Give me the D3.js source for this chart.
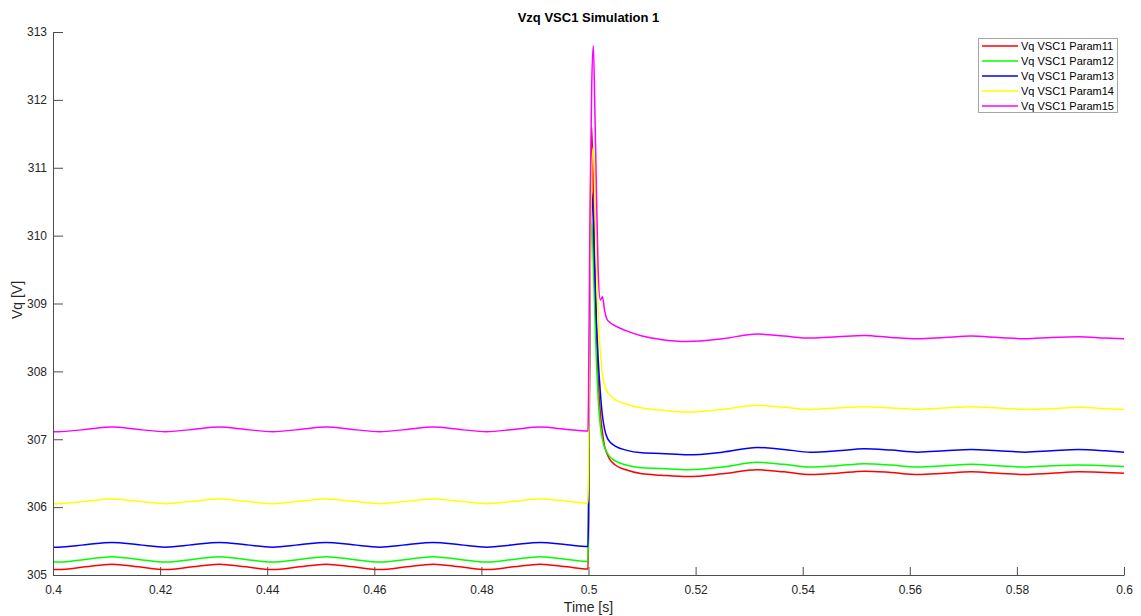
<!DOCTYPE html>
<html>
<head>
<meta charset="utf-8">
<script src="https://cdn.jsdelivr.net/npm/d3@7"></script>
<style>
  body { margin: 0; background: #fff; }
  svg { display: block; font-family: "Liberation Sans", Arial, sans-serif; }
</style>
</head>
<body>
<svg width="1141" height="616"></svg>
<script>
// time samples [s]
const time = [
  0.4, 0.401, 0.406, 0.411, 0.416, 0.421, 0.426, 0.431, 0.436, 0.441, 0.446,
  0.451, 0.456, 0.461, 0.466, 0.471, 0.476, 0.481, 0.486, 0.491, 0.496, 0.4999,
  0.5, 0.5003, 0.5006, 0.5009, 0.5012, 0.5015, 0.5018, 0.5022, 0.5026, 0.503,
  0.5035, 0.504, 0.505, 0.507, 0.51,
  0.5135, 0.5185, 0.525, 0.5315, 0.5365, 0.5415, 0.5465, 0.5515, 0.5565, 0.5615,
  0.5665, 0.5715, 0.5765, 0.5815, 0.5865, 0.5915, 0.5965, 0.6
];

const param11 = [
  305.08, 305.08, 305.12, 305.16, 305.12, 305.08, 305.12, 305.16, 305.12, 305.08, 305.12,
  305.16, 305.12, 305.08, 305.12, 305.16, 305.12, 305.08, 305.12, 305.16, 305.12, 305.09,
  305.6, 309.2, 311.6, 310.6, 309.4, 308.5, 307.9, 307.4, 307.1, 306.9,
  306.78, 306.7, 306.62, 306.55, 306.49,
  306.47, 306.45, 306.49, 306.55, 306.52, 306.48, 306.5, 306.53, 306.51, 306.48,
  306.5, 306.52, 306.5, 306.48, 306.5, 306.52, 306.51, 306.5
];
const param12 = [
  305.19, 305.19, 305.23, 305.27, 305.23, 305.19, 305.23, 305.27, 305.23, 305.19, 305.23,
  305.27, 305.23, 305.19, 305.23, 305.27, 305.23, 305.19, 305.23, 305.27, 305.23, 305.2,
  305.7, 309.3, 310.2, 309.6, 308.8, 308.1, 307.6, 307.2, 307.0, 306.88,
  306.8, 306.74, 306.68, 306.62, 306.58,
  306.57, 306.55, 306.59, 306.66, 306.63, 306.59, 306.61, 306.64, 306.62, 306.59,
  306.61, 306.63, 306.61, 306.59, 306.61, 306.62, 306.61, 306.6
];
const param13 = [
  305.41, 305.41, 305.445, 305.48, 305.445, 305.41, 305.445, 305.48, 305.445, 305.41, 305.445,
  305.48, 305.445, 305.41, 305.445, 305.48, 305.445, 305.41, 305.445, 305.48, 305.445, 305.42,
  305.9, 309.6, 310.65, 310.2, 309.4, 308.7, 308.2, 307.7, 307.35, 307.15,
  307.02, 306.96, 306.9, 306.84, 306.8,
  306.79, 306.77, 306.81, 306.88, 306.85, 306.81, 306.83, 306.86, 306.84, 306.81,
  306.83, 306.85, 306.83, 306.81, 306.83, 306.85, 306.83, 306.81
];
const param14 = [
  306.05, 306.05, 306.085, 306.12, 306.085, 306.05, 306.085, 306.12, 306.085, 306.05, 306.085,
  306.12, 306.085, 306.05, 306.085, 306.12, 306.085, 306.05, 306.085, 306.12, 306.085, 306.06,
  306.5, 309.5, 311.0, 311.3, 310.8, 309.6, 308.8, 308.3, 307.95, 307.8,
  307.7, 307.65, 307.58, 307.52, 307.46,
  307.43, 307.4, 307.44, 307.5, 307.47, 307.44, 307.46, 307.48, 307.46, 307.44,
  307.46, 307.48, 307.46, 307.44, 307.45, 307.47, 307.45, 307.44
];
const param15 = [
  307.11, 307.11, 307.145, 307.18, 307.145, 307.11, 307.145, 307.18, 307.145, 307.11, 307.145,
  307.18, 307.145, 307.11, 307.145, 307.18, 307.145, 307.11, 307.145, 307.18, 307.145, 307.12,
  307.6, 310.5, 312.2, 312.8, 311.8, 310.6, 309.5, 309.05, 309.1, 308.9,
  308.76, 308.72, 308.67, 308.6, 308.52,
  308.47, 308.44, 308.48, 308.55, 308.52, 308.49, 308.51, 308.53, 308.5, 308.48,
  308.5, 308.52, 308.5, 308.48, 308.5, 308.51, 308.49, 308.48
];

const seriesNames = ['Vq VSC1 Param11', 'Vq VSC1 Param12', 'Vq VSC1 Param13', 'Vq VSC1 Param14', 'Vq VSC1 Param15'];
const seriesColors = ['#ff0000', '#00ff00', '#0000ff', '#ffff00', '#ff00ff'];
const seriesValues = [param11, param12, param13, param14, param15];

const xTicks = [0.4, 0.42, 0.44, 0.46, 0.48, 0.5, 0.52, 0.54, 0.56, 0.58, 0.6];
const xTickLabels = ['0.4', '0.42', '0.44', '0.46', '0.48', '0.5', '0.52', '0.54', '0.56', '0.58', '0.6'];
const yTicks = [305, 306, 307, 308, 309, 310, 311, 312, 313];

const margin = { top: 32, right: 17, bottom: 41, left: 53 };
const width = 1141, height = 616;
const innerW = width - margin.left - margin.right;
const innerH = height - margin.top - margin.bottom;
const axisColor = '#4d4d4d';
const textColor = '#262626';

const svg = d3.select('svg');
const g = svg.append('g').attr('transform', `translate(${margin.left},${margin.top})`);

const x = d3.scaleLinear().domain([0.4, 0.6]).range([0, innerW]);
const y = d3.scaleLinear().domain([305, 313]).range([innerH, 0]);

svg.append('defs').append('clipPath').attr('id', 'plot')
  .append('rect').attr('width', innerW).attr('height', innerH);

// lines
const line = d3.line()
  .x((d, i) => x(time[i]))
  .y(d => y(d))
  .curve(d3.curveMonotoneX);

g.append('g').attr('clip-path', 'url(#plot)')
  .selectAll('path')
  .data(seriesValues)
  .join('path')
  .attr('d', d => line(d))
  .attr('fill', 'none')
  .attr('stroke', (d, i) => seriesColors[i])
  .attr('stroke-width', 1.5);

// axes (ticks inward like MATLAB)
const xAxis = d3.axisBottom(x)
  .tickValues(xTicks)
  .tickFormat((d, i) => xTickLabels[i])
  .tickSizeInner(-8).tickSizeOuter(0).tickPadding(10);
const gx = g.append('g').attr('transform', `translate(0,${innerH})`).call(xAxis);

const yAxis = d3.axisLeft(y)
  .tickValues(yTicks)
  .tickSizeInner(-10).tickSizeOuter(0).tickPadding(6);
const gy = g.append('g').call(yAxis);

[gx, gy].forEach(ax => {
  ax.select('.domain').attr('stroke', axisColor);
  ax.selectAll('.tick line').attr('stroke', axisColor);
  ax.selectAll('.tick text').attr('fill', textColor).style('font-size', '12px')
    .style('font-family', '"Liberation Sans", Arial, sans-serif');
});

// title and axis labels
svg.append('text')
  .attr('x', margin.left + innerW / 2).attr('y', 22)
  .attr('text-anchor', 'middle')
  .style('font-size', '13px').style('font-weight', 'bold')
  .attr('fill', '#000')
  .text('Vzq VSC1 Simulation 1');

svg.append('text')
  .attr('x', margin.left + innerW / 2).attr('y', 612)
  .attr('text-anchor', 'middle')
  .style('font-size', '14px')
  .attr('fill', textColor)
  .text('Time [s]');

svg.append('text')
  .attr('transform', `translate(22,300) rotate(-90)`)
  .attr('text-anchor', 'middle')
  .style('font-size', '14px')
  .attr('fill', textColor)
  .text('Vq [V]');

// legend
const legend = svg.append('g').attr('transform', 'translate(978,38)');
legend.append('rect')
  .attr('x', 0.5).attr('y', 0.5)
  .attr('width', 139).attr('height', 74)
  .attr('fill', '#fff').attr('stroke', '#a6a6a6');

const rows = legend.selectAll('g.row')
  .data(seriesNames)
  .join('g')
  .attr('class', 'row')
  .attr('transform', (d, i) => `translate(0,${8 + i * 15})`);
rows.append('line')
  .attr('x1', 4).attr('x2', 40)
  .attr('stroke', (d, i) => seriesColors[i])
  .attr('stroke-width', 1.5);
rows.append('text')
  .attr('x', 43).attr('dy', '0.35em')
  .style('font-size', '11px')
  .attr('fill', '#000')
  .text(d => d);
</script>
</body>
</html>
